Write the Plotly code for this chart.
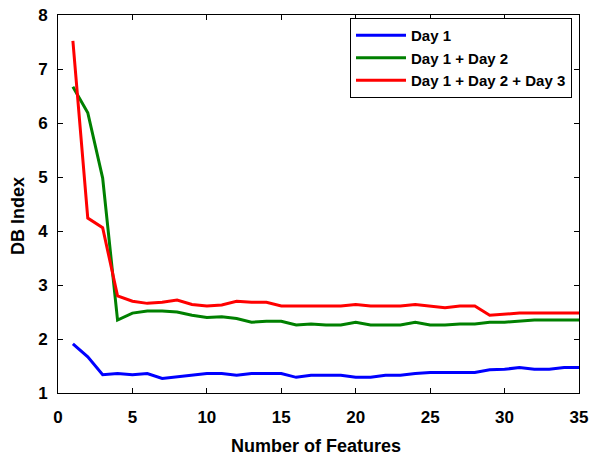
import plotly.graph_objects as go

features = list(range(1, 36))
day1 = [1.91, 1.67, 1.34, 1.36, 1.34, 1.36, 1.27, 1.30, 1.34, 1.36,
        1.36, 1.33, 1.36, 1.36, 1.36, 1.29, 1.33, 1.33, 1.33, 1.29,
        1.29, 1.33, 1.33, 1.36, 1.38, 1.38, 1.38, 1.38, 1.43, 1.44,
        1.47, 1.44, 1.44, 1.47, 1.47]
day12 = [6.67, 6.19, 4.98, 2.35, 2.48, 2.52, 2.52, 2.50, 2.44, 2.40,
         2.41, 2.38, 2.31, 2.33, 2.33, 2.26, 2.28, 2.26, 2.26, 2.31,
         2.26, 2.26, 2.26, 2.31, 2.26, 2.26, 2.28, 2.28, 2.31, 2.31,
         2.33, 2.35, 2.35, 2.35, 2.35]
day123 = [7.52, 4.24, 4.06, 2.80, 2.70, 2.66, 2.68, 2.72, 2.64, 2.61,
          2.63, 2.70, 2.68, 2.68, 2.61, 2.61, 2.61, 2.61, 2.61, 2.64,
          2.61, 2.61, 2.61, 2.64, 2.61, 2.58, 2.61, 2.61, 2.44, 2.46,
          2.48, 2.48, 2.48, 2.48, 2.48]

series = [("Day 1", day1, "#0000ff"),
          ("Day 1 + Day 2", day12, "#008000"),
          ("Day 1 + Day 2 + Day 3", day123, "#ff0000")]

x_title = "Number of Features"
y_title = "DB Index"

FONT = "Liberation Sans, Arial, sans-serif"

fig = go.Figure()
for name, vals, col in series:
    fig.add_trace(go.Scatter(x=features, y=vals, mode="lines", name=name,
                             line=dict(color=col, width=3)))

axis_common = dict(showgrid=False, zeroline=False, showline=True, linecolor="black",
                   linewidth=1, mirror="ticks", ticks="inside", ticklen=5,
                   tickcolor="black", automargin=False,
                   tickfont=dict(family=FONT, size=17, color="black", weight="bold"))

fig.update_xaxes(range=[0, 35], dtick=5, tick0=0, ticklabelstandoff=9, **axis_common)
fig.update_yaxes(range=[1, 8], dtick=1, ticklabelstandoff=6, **axis_common)

# L=58, R=579 ; T=15, B=393 (pixels)
fig.add_annotation(text="<b>" + x_title + "</b>", xref="paper", yref="paper",
                   x=0.496, y=-53 / 378, xanchor="center", yanchor="middle",
                   showarrow=False, font=dict(family=FONT, size=18, color="black"))
fig.add_annotation(text="<b>" + y_title + "</b>", xref="paper", yref="paper",
                   x=-40 / 521, y=(393 - 216) / 378, xanchor="center", yanchor="middle",
                   textangle=-90, showarrow=False,
                   font=dict(family=FONT, size=18, color="black"))

fig.update_layout(
    width=592, height=455,
    margin=dict(l=58, r=13, t=15, b=62, autoexpand=False),
    plot_bgcolor="white", paper_bgcolor="white",
    legend=dict(x=(572 - 58) / 521, y=(393 - 18) / 378, xanchor="right", yanchor="top",
                bordercolor="black", borderwidth=1, bgcolor="white",
                itemwidth=50,
                font=dict(family=FONT, size=15, color="black", weight="bold")),
)

fig.write_html("out.html", config={"displayModeBar": False},
               post_script="document.body.style.margin='0';document.body.style.padding='0';")
